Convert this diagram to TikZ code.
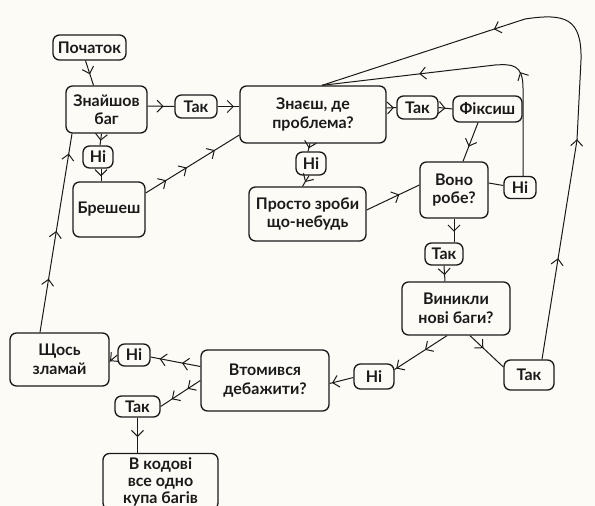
\documentclass[tikz,border=0pt]{standalone}
\usepackage{fontspec}
\setmainfont{Lato}
\usetikzlibrary{arrows.meta,decorations.markings,calc}
\definecolor{bgcol}{HTML}{FDFBF6}
\definecolor{inkcol}{HTML}{1A1A1A}
\newcommand\barbtip{\arrow{Straight Barb[length=6pt,width=12pt,line width=1pt]}}
\tikzset{
  box/.style={draw=inkcol, line width=1.3pt, rounded corners=6.5pt, fill=bgcol,
    align=center, text=inkcol, font=\bfseries\fontsize{16}{18.5}\selectfont, inner sep=0pt},
  bsize/.style 2 args={minimum width=#1pt, minimum height=#2pt},
  conn/.style={draw=inkcol, line width=1pt},
  mk/.style={postaction={decorate, decoration={markings, mark=at position #1 with {\barbtip}}}},
}
\begin{document}
\begin{tikzpicture}[x=1pt,y=-1pt]
\fill[bgcol] (0,0) rectangle (595,506);
\useasboundingbox (0,0) rectangle (595,506);
\clip (0,0) rectangle (595,506);

\node[box, bsize={73}{25}] (start) at (89.5,47.5) {Початок};
\node[box, bsize={81}{47}] (fb) at (106.5,109.5) {Знайшов\\баг};
\node[box, bsize={42}{23}] (t1) at (196,106.5) {Так};
\node[box, bsize={146}{57}] (kn) at (313,114.5) {Знаєш, де\\проблема?};
\node[box, bsize={41}{23}] (t2) at (417.5,107.5) {Так};
\node[box, bsize={69}{26}] (fx) at (487.5,109) {Фіксиш};
\node[box, bsize={30}{22}] (n1) at (98,157) {Ні};
\node[box, bsize={72}{55}] (br) at (109,209.5) {Брешеш};
\node[box, bsize={30}{23}] (n2) at (311,163.5) {Ні};
\node[box, bsize={117}{54}] (pz) at (307.5,214) {Просто зроби\\що-небудь};
\node[box, bsize={68}{56}] (vr) at (454,190) {Воно\\робе?};
\node[box, bsize={32}{22}] (n3) at (520,187.5) {Ні};
\node[box, bsize={38}{22}] (t3) at (444,254) {Так};
\node[box, bsize={108}{53}] (vn) at (456,308.5) {Виникли\\нові баги?};
\node[box, bsize={50}{30}] (t4) at (529,375) {Так};
\node[box, bsize={40}{25}] (n5) at (374,376.5) {Ні};
\node[box, bsize={128}{61}] (td) at (265,380.5) {Втомився\\дебажити?};
\node[box, bsize={32}{22}] (n6) at (134,355) {Ні};
\node[box, bsize={99}{53}] (brk) at (59.5,359.5) {Щось\\зламай};
\node[box, bsize={45}{21}] (t7) at (137.5,406.5) {Так};
\node[box, bsize={115}{56}, font=\bfseries\fontsize{16}{17}\selectfont] (vk) at (160.5,481.5) {В кодові\\все одно\\купа багів};

% connectors
\draw[conn, mk=0.55] ([xshift=-4]start.south) -- ([xshift=-13]fb.north);
\draw[conn, mk=0.6] ([yshift=3.5]fb.east) -- (t1.west);
\draw[conn, mk=0.75] (t1.east) -- ([yshift=8]kn.west);
\draw[conn, mk=0.6] ([xshift=-5]fb.south) -- ([xshift=2]n1.north);
\draw[conn, mk=0.6] ([xshift=3]n1.south) -- ([xshift=-8]br.north);
\draw[conn, mk=0.22, mk=0.44, mk=0.74] ([yshift=16.5]br.east) -- ([yshift=-20.5]kn.west);
\draw[conn, mk=0.27, mk=0.51, mk=0.9] ([xshift=-19.5]brk.north) -- ([xshift=-34.5]fb.south);
\draw[conn, mk=0.75] ([yshift=6.5]kn.east) -- (t2.west);
\draw[conn, mk=0.5] (t2.east) -- (fx.west);
\draw[conn, mk=0.6] ([xshift=-3]kn.south) -- ([xshift=-3]n2.north);
\draw[conn, mk=0.6] ([xshift=-2]n2.south) -- ([xshift=-5]pz.north);
\draw[conn, mk=0.62] ([yshift=4]pz.east) -- ([yshift=5]vr.west);
\draw[conn, mk=0.62] ([xshift=-9.5]fx.south) -- ([xshift=9]vr.north);
\draw[conn] ([yshift=7]vr.east) -- ([yshift=2]n3.west);
\draw[conn, mk=0.34, mk=0.68] ([xshift=3]n3.north) -- (523,88)
  .. controls (523,64) and (512,64) .. (495,65) -- ([xshift=9]kn.north);
\draw[conn, mk=0.55] ([xshift=0]vr.south) -- ([xshift=10]t3.north);
\draw[conn, mk=0.6] ([xshift=0]t3.south) -- ([xshift=-11]vn.north);
\draw[conn, mk=0.17, mk=0.37, mk=0.7] ([xshift=13]t4.north) -- (577,140) -- (581,60)
  .. controls (582,18) and (565,13) .. (525,19) -- ([xshift=9]kn.north);
\draw[conn, mk=0.42, mk=0.97] ([xshift=-9]vn.south) -- ([yshift=7]n5.east);
\draw[conn, mk=0.9] ([yshift=-1]n5.west) -- ([yshift=-3]td.east);
\draw[conn, mk=0.4] ([xshift=14]vn.south) -- ([yshift=8]t4.west);
\draw[conn, mk=0.37, mk=0.82] ([yshift=14]td.west) -- ([yshift=-2]n6.east);
\draw[conn, mk=0.95] (n6.west) -- ([yshift=-2]brk.east);
\draw[conn, mk=0.32, mk=0.72] (td.west) -- (t7.east);
\draw[conn, mk=0.55] (t7.south) -- ([xshift=-23]vk.north);
\end{tikzpicture}
\end{document}
